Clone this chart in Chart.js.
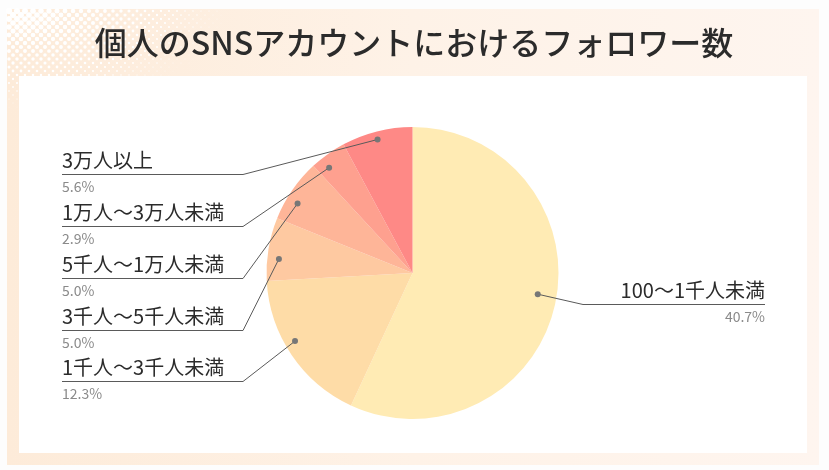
<!DOCTYPE html>
<html><head><meta charset="utf-8">
<script src="https://cdn.jsdelivr.net/npm/chart.js@4.4.1/dist/chart.umd.min.js"></script>
<style>
html,body{margin:0;padding:0;background:#fdfdfd;}
#wrap{position:relative;width:829px;height:470px;}
</style></head>
<body>
<div id="wrap"><canvas id="c" width="829" height="470"></canvas></div>
<script>
const title = "個人のSNSアカウントにおけるフォロワー数";
const categories = ["100～1千人未満","1千人～3千人未満","3千人～5千人未満","5千人～1万人未満","1万人～3万人未満","3万人以上"];
const values = [40.7, 12.3, 5.0, 5.0, 2.9, 5.6];
const valueLabels = ["40.7%","12.3%","5.0%","5.0%","2.9%","5.6%"];
const colors = ["#ffebb4","#fedca7","#fec9a1","#feb598","#fea08f","#fe8986"];

const FONT = '"Noto Sans CJK JP","Noto Sans",sans-serif';

const framePlugin = {
  id:'frame',
  beforeDraw(chart){
    const ctx = chart.ctx;
    ctx.save();
    ctx.fillStyle = '#fdfdfd';
    ctx.fillRect(0,0,829,470);
    const g = ctx.createLinearGradient(7,0,819,0);
    g.addColorStop(0,'#fdebd9');
    g.addColorStop(0.5,'#fef2e7');
    g.addColorStop(1,'#fef5ef');
    ctx.fillStyle = g;
    ctx.fillRect(7,9,812,456);
    ctx.fillStyle = '#ffffff';
    const sp = 8;
    for (let row=0; row*sp/2 < 120; row++){
      const y = 9 + 2 + row*sp/2;
      const off = (row%2)*sp/2;
      for (let x = 7 + 2 + off; x < 260; x += sp){
        const d = Math.sqrt(Math.pow((x-7)/240,2) + Math.pow((y-9)/110,2));
        const r = 3.2*(1 - d);
        if (r > 0.3 && y < 465){
          ctx.beginPath(); ctx.arc(x,y,r,0,Math.PI*2); ctx.fill();
        }
      }
    }
    ctx.fillStyle = '#ffffff';
    ctx.fillRect(19,76,788,377);
    ctx.fillStyle = '#2b2b2b';
    ctx.font = '500 32px ' + FONT;
    ctx.textAlign = 'center';
    ctx.textBaseline = 'middle';
    ctx.fillText(title, 414, 43);
    ctx.restore();
  },
  afterDatasetsDraw(chart){
    const ctx = chart.ctx;
    const meta = chart.getDatasetMeta(0);
    ctx.save();
    const leftOrder = [5,4,3,2,1];
    const leftUnder = [174,226,278,330,381];
    const lx0 = 62, lx1 = 243;
    const angAdj = [-0.05,0.07,-0.06,-0.06,-0.05,-0.01];
    const fracs = [0.87,0.93,0.92,0.92,0.92,0.945];
    const drawDot = (idx) => {
      const arc = meta.data[idx];
      const mid = (arc.startAngle + arc.endAngle)/2 + angAdj[idx];
      const r = arc.outerRadius * fracs[idx];
      return {x: arc.x + Math.cos(mid)*r, y: arc.y + Math.sin(mid)*r};
    };
    leftOrder.forEach((idx, k) => {
      const p = drawDot(idx);
      const uy = leftUnder[k];
      ctx.strokeStyle = '#5a5a5a';
      ctx.lineWidth = 1;
      ctx.beginPath();
      ctx.moveTo(lx0, uy+0.5); ctx.lineTo(lx1, uy+0.5); ctx.lineTo(p.x, p.y);
      ctx.stroke();
      ctx.fillStyle = '#777777';
      ctx.beginPath(); ctx.arc(p.x,p.y,3,0,Math.PI*2); ctx.fill();
      ctx.textAlign = 'left';
      ctx.textBaseline = 'alphabetic';
      ctx.fillStyle = '#2b2b2b';
      ctx.font = '400 20px ' + FONT;
      ctx.fillText(categories[idx], lx0, uy - 6);
      ctx.fillStyle = '#8a8a8a';
      ctx.font = '400 14px ' + FONT;
      ctx.fillText(valueLabels[idx], lx0, uy + 18);
    });
    {
      const p = drawDot(0);
      const uy = 304, rx0 = 583, rx1 = 765;
      ctx.strokeStyle = '#5a5a5a';
      ctx.lineWidth = 1;
      ctx.beginPath();
      ctx.moveTo(p.x,p.y); ctx.lineTo(rx0, uy+0.5); ctx.lineTo(rx1, uy+0.5);
      ctx.stroke();
      ctx.fillStyle = '#777777';
      ctx.beginPath(); ctx.arc(p.x,p.y,3,0,Math.PI*2); ctx.fill();
      ctx.textAlign = 'right';
      ctx.textBaseline = 'alphabetic';
      ctx.fillStyle = '#2b2b2b';
      ctx.font = '400 20px ' + FONT;
      ctx.fillText(categories[0], rx1, uy - 6);
      ctx.fillStyle = '#8a8a8a';
      ctx.font = '400 14px ' + FONT;
      ctx.fillText(valueLabels[0], rx1, uy + 18);
    }
    ctx.restore();
  }
};

new Chart(document.getElementById('c'), {
  type:'pie',
  data:{labels:categories, datasets:[{data:values, backgroundColor:colors, borderWidth:0, hoverOffset:0, offset:0}]},
  options:{
    responsive:false, animation:false, devicePixelRatio:1,
    layout:{padding:{top:127,bottom:51,left:0,right:4}},
    plugins:{legend:{display:false}, tooltip:{enabled:false}, title:{display:false}},
    events:[]
  },
  plugins:[framePlugin]
});
</script>
</body></html>
